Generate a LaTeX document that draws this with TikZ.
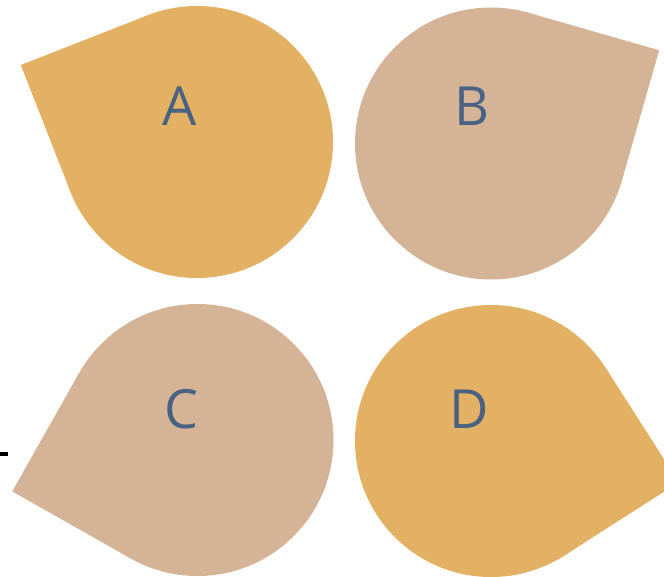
\documentclass[tikz,border=0pt]{standalone}
\usepackage{fontspec}
\setsansfont{Open Sans}
\usetikzlibrary{calc}
\definecolor{gold}{HTML}{E3B163}
\definecolor{sand}{HTML}{D4B397}
\definecolor{ink}{HTML}{4A6282}
\begin{document}
\begin{tikzpicture}[x=1pt, y=-1pt,
    blob/.style={circle, minimum size=272pt, inner sep=0pt, outer sep=0pt},
    letter/.style={anchor=base, text=ink, font=\sffamily\fontsize{54}{54}\selectfont}]
    \useasboundingbox (0, 0) rectangle (664, 576);
    % circles
    \node[blob, fill=gold] (cA) at (197, 142) {};
    \node[blob, fill=sand] (cB) at (491, 143.5) {};
    \node[blob, fill=sand] (cC) at (197.5, 440) {};
    \node[blob, fill=gold] (cD) at (491, 441) {};
    % tips, sqrt(2) radii out
    \coordinate (tA) at ($(cA.center)+(203.6:192.3)$);
    \coordinate (tB) at ($(cB.center)+(-29:192.3)$);
    \coordinate (tC) at ($(cC.center)+(164.5:192.3)$);
    \coordinate (tD) at ($(cD.center)+(12.4:192.3)$);
    \foreach \p/\c in {A/gold, B/sand, C/sand, D/gold}
        \fill[\c] (t\p) -- (tangent cs:node=c\p, point={(t\p)}, solution=1)
            -- (c\p.center) -- (tangent cs:node=c\p, point={(t\p)}, solution=2) -- cycle;
    \node[letter] (lA) at (180, 125) {A};
    \node[letter] (lB) at (472, 125) {B};
    \node[letter] (lC) at (182, 428) {C};
    \node[letter] (lD) at (469, 428) {D};
    \draw[line width=4pt] (0, 454) -- (8, 454);
\end{tikzpicture}
\end{document}
